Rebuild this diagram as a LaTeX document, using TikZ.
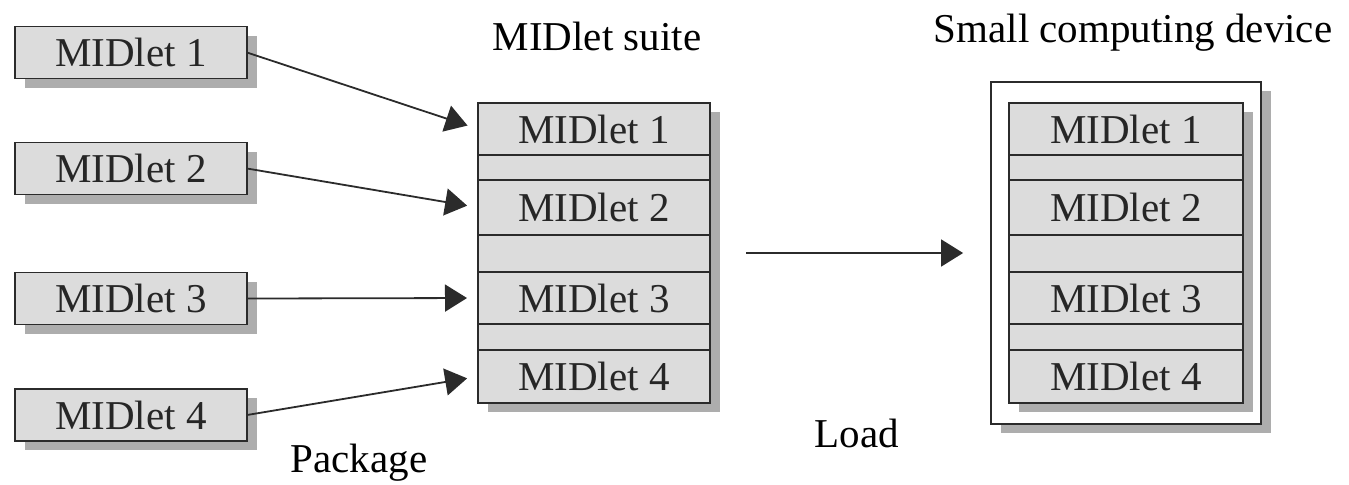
\documentclass[tikz,border=0pt]{standalone}
\usepackage{fontspec}
\setmainfont{Liberation Serif}
\usepackage{xcolor}
\definecolor{boxGrey}{HTML}{DCDCDC}
\definecolor{shadowGrey}{HTML}{ADADAD}
\definecolor{lineGrey}{HTML}{2B2B2B}
\usepackage{tikz}
\usetikzlibrary{arrows.meta}
\tikzset{arrow/.style = {> = {Triangle[length = 11pt, width = 13.5pt]}}}
\usetikzlibrary{positioning}
\usetikzlibrary{fit}
\usetikzlibrary{backgrounds}
\usetikzlibrary{shadows}

\begin{document}
\begin{tikzpicture}[x = 0.5pt, y = -0.5pt, font = \fontsize{20.5}{25}\selectfont,
	block/.style = {rectangle, draw = lineGrey, line width = 0.9pt, fill = boxGrey, text = black!85, minimum width = 116pt, minimum height = 26pt, inner sep = 0pt, outer sep = 0pt},
	spacer/.style = {block, minimum height = #1},
	boxshadow/.style = {drop shadow = {shadow xshift = 5pt, shadow yshift = -4.5pt, fill = shadowGrey, opacity = 1}},
	link/.style = {->, arrow, draw = lineGrey, line width = 0.9pt}]
	\useasboundingbox (0, 0) rectangle (1349, 484);

	%% Single MIDlets
	\node[block, boxshadow] (m1) at (131, 52.5) {MIDlet 1};
	\node[block, boxshadow] (m2) at (131, 168.5) {MIDlet 2};
	\node[block, boxshadow] (m3) at (131, 298.5) {MIDlet 3};
	\node[block, boxshadow] (m4) at (131, 415) {MIDlet 4};

	\node[anchor = base] (package) at (359, 472) {Package};

	%% MIDlet suite
	\node[block] (s1) at (594, 129) {MIDlet 1};
	\node[spacer = 12.5pt, below = 0pt of s1] (s2) {};
	\node[block, minimum height = 27.5pt, below = 0pt of s2] (s3) {MIDlet 2};
	\node[spacer = 18.5pt, below = 0pt of s3] (s4) {};
	\node[block, below = 0pt of s4] (s5) {MIDlet 3};
	\node[spacer = 13pt, below = 0pt of s5] (s6) {};
	\node[block, minimum height = 26.5pt, below = 0pt of s6] (s7) {MIDlet 4};

	\begin{scope}[on background layer] % From background library
		\node[fit = (s1)(s7), inner sep = 0pt, fill = boxGrey, boxshadow] (suite) {};
	\end{scope}

	\node[anchor = base] (suitetitle) at (597, 50) {MIDlet suite};

	%% Device
	\node[block, minimum width = 117pt] (d1) at (1126, 129) {MIDlet 1};
	\node[spacer = 12.5pt, minimum width = 117pt, below = 0pt of d1] (d2) {};
	\node[block, minimum width = 117pt, minimum height = 27.5pt, below = 0pt of d2] (d3) {MIDlet 2};
	\node[spacer = 18.5pt, minimum width = 117pt, below = 0pt of d3] (d4) {};
	\node[block, minimum width = 117pt, below = 0pt of d4] (d5) {MIDlet 3};
	\node[spacer = 13pt, minimum width = 117pt, below = 0pt of d5] (d6) {};
	\node[block, minimum width = 117pt, minimum height = 26.5pt, below = 0pt of d6] (d7) {MIDlet 4};

	\begin{scope}[on background layer] % From background library
		\node[fit = (d1)(d7), inner xsep = 9pt, inner ysep = 10.5pt, draw = lineGrey, line width = 0.9pt, fill = white, boxshadow] (device) {};
		\node[fit = (d1)(d7), inner sep = 0pt, fill = boxGrey, boxshadow] (devicestack) {};
	\end{scope}

	\node[anchor = base] (devicetitle) at (1133, 42) {Small computing device};

	\node[anchor = base] (load) at (857, 447) {Load};

	%% Arrows...
	% ... packaging
	\draw[link, shorten > = 5.5pt] (m1.east) -- (s1.west);
	\draw[link, shorten > = 5.5pt] (m2.east) -- (s3.west);
	\draw[link, shorten > = 5.5pt] (m3.east) -- (s5.west);
	\draw[link, shorten > = 5.5pt] (m4.east) -- (s7.west);

	% ... loading
	\draw[link, shorten < = 18pt, shorten > = 13.5pt] (suite.east) -- (device.west);
\end{tikzpicture}
\end{document}
